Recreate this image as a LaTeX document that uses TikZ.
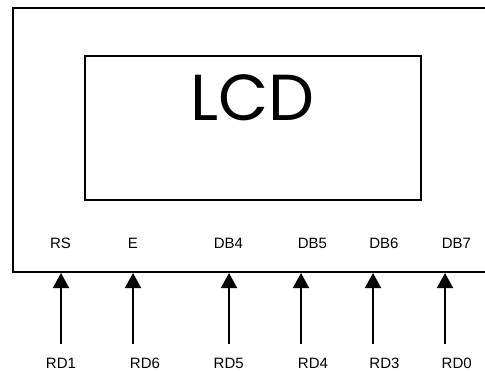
\documentclass[tikz,border=0pt]{standalone}
\usepackage{fontspec}
\setmainfont{Liberation Sans}
\newfontfamily\lcdfont{Poppins}
\usepackage{tikz}
\usetikzlibrary{arrows.meta}

\begin{document}
\begin{tikzpicture}[x=1pt,y=-1pt,
		pin/.style={anchor=base,inner sep=0pt,font=\fontsize{15}{15}\selectfont},
		wire/.style={line width=1.7pt,-{Triangle[width=16pt,length=15pt]}}]
		\useasboundingbox (0,0) rectangle (485,372);
		\clip (0,0) rectangle (485,372);
%		\draw[help lines,step=20] (0,0) grid (485,372);
		\path (12.7,7.7) coordinate (box_tl);
		\path (505,271.7) coordinate (box_br);
		\path (85,56) coordinate (scr_tl);
		\path (421,200) coordinate (scr_br);
		\path (252.5,120.7) coordinate (lcd);

		\path (61,344) coordinate (rd1_b);
		\path (61,273) coordinate (rs_pin);
		\path (133,344) coordinate (rd6_b);
		\path (133,273) coordinate (e_pin);
		\path (229,344) coordinate (rd5_b);
		\path (229,273) coordinate (db4_pin);
		\path (301,344) coordinate (rd4_b);
		\path (301,273) coordinate (db5_pin);
		\path (373,344) coordinate (rd3_b);
		\path (373,273) coordinate (db6_pin);
		\path (445,344) coordinate (rd0_b);
		\path (445,273) coordinate (db7_pin);

		\draw[line width=2.4pt] (box_tl) rectangle (box_br);
		\draw[line width=2pt] (scr_tl) rectangle (scr_br);
		\node[anchor=base,inner sep=0pt] (title) at (lcd) {\lcdfont\fontsize{65}{65}\selectfont LCD};

		\node[pin] (rs) at (60.5,248.7) {RS};
		\node[pin] (e) at (133,248.7) {E};
		\node[pin] (db4) at (228.5,248.7) {DB4};
		\node[pin] (db5) at (312.5,248.7) {DB5};
		\node[pin] (db6) at (384,248.7) {DB6};
		\node[pin] (db7) at (456.5,248.7) {DB7};

		\node[pin] (rd1) at (61,368) {RD1};
		\node[pin] (rd6) at (145,368) {RD6};
		\node[pin] (rd5) at (228.7,368) {RD5};
		\node[pin] (rd4) at (313,368) {RD4};
		\node[pin] (rd3) at (384.5,368) {RD3};
		\node[pin] (rd0) at (456.7,368) {RD0};

		\draw[wire] (rd1_b) -- (rs_pin);
		\draw[wire] (rd6_b) -- (e_pin);
		\draw[wire] (rd5_b) -- (db4_pin);
		\draw[wire] (rd4_b) -- (db5_pin);
		\draw[wire] (rd3_b) -- (db6_pin);
		\draw[wire] (rd0_b) -- (db7_pin);
	\end{tikzpicture}
\end{document}
